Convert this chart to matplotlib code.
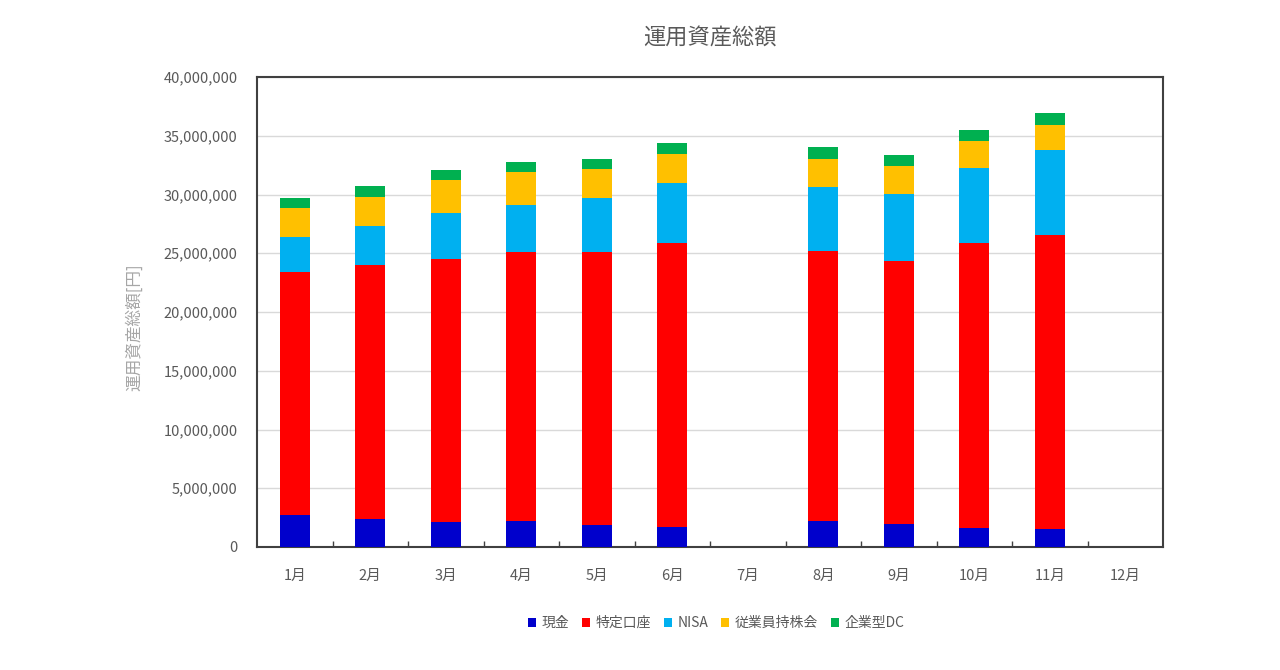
import numpy as np
import matplotlib
matplotlib.use("Agg")
import matplotlib.pyplot as plt
from matplotlib.ticker import FuncFormatter, FixedLocator

plt.rcParams['font.family'] = ['Noto Sans CJK JP', 'DejaVu Sans']

months = ["1月", "2月", "3月", "4月", "5月", "6月", "7月", "8月", "9月", "10月", "11月", "12月"]
nan = np.nan
cash    = [2.72e6, 2.38e6, 2.09e6, 2.18e6, 1.84e6, 1.67e6, nan, 2.24e6, 1.98e6, 1.62e6, 1.53e6, nan]
tokutei = [20.71e6, 21.62e6, 22.45e6, 22.89e6, 23.23e6, 24.17e6, nan, 22.98e6, 22.33e6, 24.22e6, 24.99e6, nan]
nisa    = [2.92e6, 3.29e6, 3.85e6, 4.06e6, 4.60e6, 5.14e6, nan, 5.42e6, 5.73e6, 6.44e6, 7.27e6, nan]
mochikabu = [2.50e6, 2.52e6, 2.81e6, 2.75e6, 2.47e6, 2.47e6, nan, 2.41e6, 2.39e6, 2.24e6, 2.15e6, nan]
dc      = [0.82e6, 0.91e6, 0.89e6, 0.89e6, 0.88e6, 0.96e6, nan, 0.96e6, 0.96e6, 0.99e6, 1.00e6, nan]

series = [("現金", cash, "#0000CC"),
          ("特定口座", tokutei, "#FF0000"),
          ("NISA", nisa, "#00B0F0"),
          ("従業員持株会", mochikabu, "#FFC000"),
          ("企業型DC", dc, "#00B050")]

fig = plt.figure(figsize=(12.8, 6.7), dpi=100)
ax = fig.add_axes([257/1280, 1-547/670, (1163-257)/1280, (547-77)/670])

x = np.arange(len(months))
bottom = np.zeros(len(months))
handles = []
for name, vals, col in series:
    v = np.array(vals, dtype=float)
    h = ax.bar(x, np.nan_to_num(v), width=0.4, bottom=bottom, color=col,
               edgecolor="none", label=name, zorder=3)
    handles.append(h)
    bottom = bottom + np.nan_to_num(v)

ax.set_xlim(-0.5, len(months) - 0.5)
ax.set_ylim(0, 40e6)
ax.set_yticks(np.arange(0, 40e6 + 1, 5e6))
ax.yaxis.set_major_formatter(FuncFormatter(lambda v, p: f"{int(v):,}"))
ax.grid(axis="y", color="#d9d9d9", linewidth=1, zorder=0)
ax.set_xticks(x)
ax.set_xticklabels(months)
ax.xaxis.set_minor_locator(FixedLocator(np.arange(0.5, len(months) - 0.5, 1)))
ax.tick_params(axis="x", which="major", length=0, pad=16, labelsize=10.5, colors="#595959")
ax.tick_params(axis="x", which="minor", length=4, direction="in", color="#404040", width=1)
ax.tick_params(axis="y", length=0, pad=14, labelsize=10.5, colors="#595959")
for s in ax.spines.values():
    s.set_color("#404040")
    s.set_linewidth(1.5)

ax.set_ylabel("運用資産総額[円]", color="#a6a6a6", fontsize=12)
ax.yaxis.set_label_coords((143 - 257) / (1163 - 257), (547 - 327) / (547 - 77))
fig.text(710/1280, 1-38/670, "運用資産総額", ha="center", va="center",
         fontsize=16, color="#595959")

leg = fig.legend(handles=handles, loc="center", bbox_to_anchor=(716/1280, 1-623/670),
                 ncol=5, frameon=False, fontsize=10, handlelength=0.6, handleheight=0.6,
                 handletextpad=0.4, columnspacing=0.9, labelcolor="#595959")

fig.savefig("out.png", dpi=100, facecolor="white")
